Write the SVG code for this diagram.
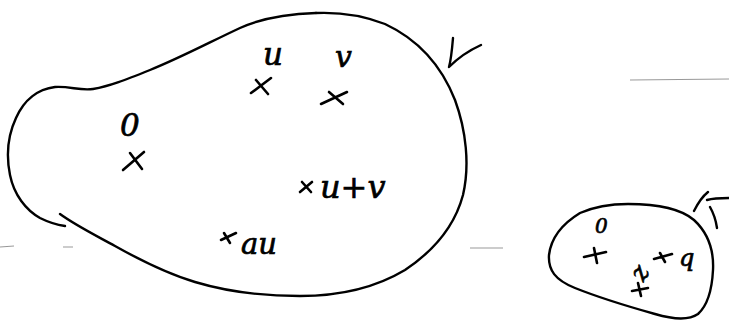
<svg xmlns="http://www.w3.org/2000/svg" width="729" height="320" viewBox="0 0 729 320">
<style>
.ink{fill:none;stroke:#000;stroke-width:2.4;stroke-linecap:round;stroke-linejoin:round}
.pt{fill:none;stroke:#000;stroke-width:2.6;stroke-linecap:round}
.lbl{font-family:"DejaVu Serif","Liberation Serif",serif;font-style:italic;fill:#000;stroke:#000;stroke-width:0.7}
.faint{stroke:#999;stroke-width:1.2;fill:none}
</style>
<rect width="729" height="320" fill="#fff"/>
<g id="artifacts">
<path class="faint" d="M0 247 L14 246 M63 247 L73 247 M470 248 L503 248 M630 80 L729 79"/>
</g>
<g id="setV">
<path class="ink" d="M316 13 C285 14 262 18 240 28 C210 42 180 58 150 70 C125 80 110 86 93 89 C80 91 70 86 55 87 C38 89 24 100 16 118 C8 135 6 155 10 175 C14 195 26 210 40 218 C50 223 58 225 65 226"/>
<path class="ink" d="M60 214 C75 225 95 235 115 246 C140 260 165 273 195 282 C225 291 260 296 300 296 C340 296 375 288 405 270 C435 250 455 225 463 195 C470 165 466 130 455 100 C440 62 415 38 385 24 C362 15 340 12 316 13"/>
<path class="ink" d="M453 38 C452 50 451 60 449 67 C458 58 470 50 481 45"/>
</g>
<g id="zero">
<text class="lbl" x="120" y="136" font-size="31">0</text>
<path class="pt" d="M123 170 L144 152 M130 153 L142 169"/>
</g>
<g id="u">
<text class="lbl" x="263" y="65" font-size="31">u</text>
<path class="pt" d="M251 93 L271 78 M256 80 L268 94"/>
</g>
<g id="v">
<text class="lbl" x="335" y="67" font-size="30">v</text>
<path class="pt" d="M321 104 L347 92 M329 92 L343 104"/>
</g>
<g id="uplusv">
<path class="pt" d="M300 192 L312 182 M302 182 L311 192"/>
<text class="lbl" x="320" y="198" font-size="32">u+v</text>
</g>
<g id="au">
<path class="pt" d="M221 240 L236 233 M224 233 L230 243"/>
<text class="lbl" x="241" y="254" font-size="29">au</text>
</g>
<g id="setK">
<path class="ink" d="M628 204 C655 204 680 208 694 220 C708 233 714 250 713 270 C712 290 708 305 698 314 C688 321 672 319 655 314 C630 307 600 298 575 288 C555 280 548 270 549 255 C551 238 562 224 580 213 C596 206 612 204 628 204"/>
<path class="ink" d="M694 211 C698 203 703 196 708 192 M707 200 C714 198 722 198 729 198 M710 207 C714 214 716 221 717 228"/>
<text class="lbl" x="595" y="233" font-size="20">0</text>
<path class="pt" d="M584 257 L606 252 M594 248 L597 263"/>
<path class="pt" d="M654 259 L672 254 M660 253 L665 262"/>
<text class="lbl" x="679" y="266" font-size="24">q</text>
<text class="lbl" x="634" y="280" font-size="25" transform="rotate(-60 641 273)">z</text>
<path class="pt" d="M632 291 L648 288 M638 283 L641 296"/>
</g>
</svg>
